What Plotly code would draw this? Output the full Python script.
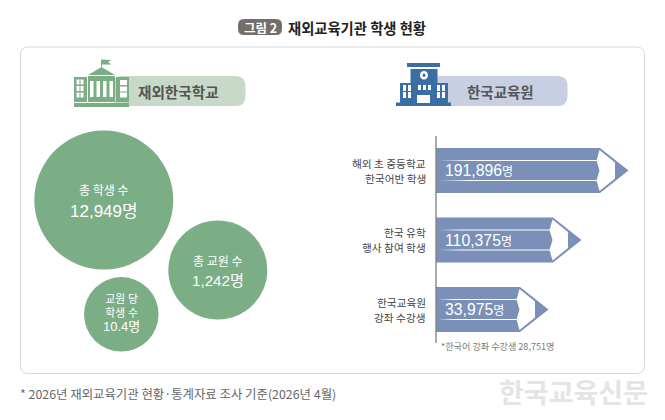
import plotly.graph_objects as go

# ---------------------------------------------------------------- data
title = "재외교육기관 학생 현황"
badge = "그림 2"
left_head = "재외한국학교"
right_head = "한국교육원"

bubble_lines = ["총 학생 수", "총 교원 수", "교원 당<br>학생 수"]
bubble_values = ["12,949", "1,242", "10.4"]

pencil_lines = [["해외 초 중등학교", "한국어반 학생"], ["한국 유학", "행사 참여 학생"], ["한국교육원", "강좌 수강생"]]
pencil_values = ["191,896", "110,375", "33,975"]
# drawn lengths (the original is not to scale)
pencil_lengths = [164, 117, 84]

note = "*한국어 강좌 수강생 28,751명"
footnote = "* 2026년 재외교육기관 현황·통계자료 조사 기준(2026년 4월)"
watermark = "한국교육신문"

# ---------------------------------------------------------------- layout constants
FONT = "Noto Sans CJK KR"
NUM_FONT = "Liberation Sans, Noto Sans CJK KR"
GREEN = "#7BAE85"
BLUE = "#7A90B8"
ICON_BLUE = "#3A6EA5"

bubble_x = [103.8, 217.8, 121.3]
bubble_y = [200, 270, 314.3]
bubble_d = [139, 99, 74.5]

axis_x = 436
pencil_y = [170.5, 240, 309.5]
pencil_h = 45

fig = go.Figure()
shapes = []
notes = []


def rect(x0, y0, x1, y1, color):
    shapes.append(dict(type="rect", x0=x0, y0=y0, x1=x1, y1=y1, fillcolor=color, line_width=0, layer="above"))


def poly(points, color, layer="above"):
    path = "M" + " L".join(f"{px},{py}" for px, py in points) + " Z"
    shapes.append(dict(type="path", path=path, fillcolor=color, line_width=0, layer=layer))


def rounded(x0, y0, x1, y1, r):
    return (f"M{x0+r},{y0} L{x1-r},{y0} Q{x1},{y0} {x1},{y0+r} L{x1},{y1-r} Q{x1},{y1} {x1-r},{y1} "
            f"L{x0+r},{y1} Q{x0},{y1} {x0},{y1-r} L{x0},{y0+r} Q{x0},{y0} {x0+r},{y0} Z")


def text(x, y, s, size, color, anchor="center", family=FONT):
    # annotations keep a small pad on the anchored side
    if anchor == "left":
        x -= 2
    elif anchor == "right":
        x += 2
    notes.append(dict(x=x, y=y, xref="x", yref="y", text=s, showarrow=False, xanchor=anchor, yanchor="middle",
                      font=dict(family=family, size=size, color=color), align=anchor))


# frame and title
shapes.append(dict(type="path", path=rounded(20.5, 47, 644.5, 373.5, 8), line=dict(color="#D6D6D6", width=1), layer="below"))
shapes.append(dict(type="path", path=rounded(238, 19, 282, 35, 6), fillcolor="#756E68", line_width=0, layer="below"))
text(260, 27, f"<b>{badge}</b>", 12.5, "white")
text(288, 27, f"<b>{title}</b>", 14.3, "#222222", "left")

# heading pills
shapes.append(dict(type="path", path=rounded(112, 76, 245.5, 106, 10), fillcolor="#C8D9C9", line_width=0, layer="below"))
shapes.append(dict(type="path", path=rounded(430, 76, 567.5, 106, 10), fillcolor="#C9CFE2", line_width=0, layer="below"))
text(178.5, 91, f"<b>{left_head}</b>", 14.6, "#555555")
text(500, 91, f"<b>{right_head}</b>", 14.5, "#555555")

# green building icon
rect(74, 103, 129, 107, GREEN)
rect(74, 77, 87, 102, GREEN)
rect(88, 76, 115, 102, GREEN)
rect(116, 77, 129, 102, GREEN)
poly([(88, 75), (101.5, 67), (115, 75)], GREEN)
rect(101, 59.5, 102, 67, GREEN)
poly([(102, 59.5), (111.5, 60), (108, 62), (111.5, 64.5), (102, 64.5)], GREEN)
for wx in (76.5, 80.5):
    for wy in (79.5, 86, 92.5):
        rect(wx, wy, wx + 3, wy + 5, "white")
for wy in (80, 86.5, 92.5):
    rect(120, wy, 127, wy + 5, "white")
for wx in (90, 96.5, 103, 109.5):
    rect(wx, 81, wx + 3.5, 97, "white")

# blue school icon
rect(407, 63, 440, 67, ICON_BLUE)
rect(410.5, 69, 437.5, 104, ICON_BLUE)
rect(400, 83, 448, 104, ICON_BLUE)
rect(396, 102.5, 451, 106, ICON_BLUE)
shapes.append(dict(type="circle", x0=420, y0=71, x1=428, y1=79.5, fillcolor="white", line_width=0, layer="above"))
shapes.append(dict(type="circle", x0=422.5, y0=73.5, x1=425.5, y1=77, fillcolor=ICON_BLUE, line_width=0, layer="above"))
rect(417, 95, 430, 103, "white")
for wx in (403, 408, 437, 442):
    for wy in (85, 92):
        rect(wx, wy, wx + 3, wy + 6, "white")
for wx in (418, 423, 428):
    rect(wx, 85, wx + 3, 90, "white")

# bubbles
fig.add_trace(go.Scatter(x=bubble_x, y=bubble_y, mode="markers",
                         marker=dict(size=bubble_d, color=GREEN, opacity=1, line_width=0), hoverinfo="skip"))
text(103.8, 189, bubble_lines[0], 12, "white")
text(103.8, 211, f"{bubble_values[0]}명", 17, "white", family=NUM_FONT)
text(217.8, 260, bubble_lines[1], 12, "white")
text(217.8, 280, f"{bubble_values[1]}명", 15.2, "white", family=NUM_FONT)
text(121.3, 313.5, f'{bubble_lines[2]}<br><span style="font-size:13px">{bubble_values[2]}명</span>', 10.8, "white", family=NUM_FONT)

# pencil bodies
fig.add_trace(go.Bar(x=pencil_lengths, y=pencil_y, base=axis_x, orientation="h", width=pencil_h,
                     marker=dict(color=BLUE, line_width=0), hoverinfo="skip"))

for length, cy, lines, val in zip(pencil_lengths, pencil_y, pencil_lines, pencil_values):
    end = axis_x + length
    top = cy - pencil_h / 2
    bot = cy + pencil_h / 2
    # tip and its white inset
    poly([(end, top), (end + 28.5, cy), (end, bot)], BLUE)
    poly([(end - 0.5, cy - 20.5), (end + 15, cy - 8), (end + 15, cy + 8), (end - 0.5, cy + 20.5),
          (end - 3.5, cy + 10), (end - 0.5, cy), (end - 3.5, cy - 10)], "white")
    # white stripes, fading out to the left
    for sy in (cy - 10, cy + 10):
        fig.add_trace(go.Scatter(x=[axis_x + 2, end - 3, end - 3, axis_x + 2, axis_x + 2],
                                 y=[sy - 0.6, sy - 0.6, sy + 0.6, sy + 0.6, sy - 0.6],
                                 mode="lines", line_width=0, fill="toself", hoverinfo="skip",
                                 fillgradient=dict(type="horizontal",
                                                   colorscale=[[0, "rgba(255,255,255,0)"], [0.2, "rgba(255,255,255,1)"],
                                                               [1, "rgba(255,255,255,1)"]])))
    text(445, cy, f'{val}<span style="font-size:12px">명</span>', 15.8, "white", "left", NUM_FONT)
    text(426, cy - 7.5, lines[0], 10.7, "#444444", "right")
    text(426, cy + 7.5, lines[1], 10.7, "#444444", "right")

# vertical axis of the pencils
shapes.append(dict(type="line", x0=axis_x, x1=axis_x, y0=136, y1=343, line=dict(color="#7F7F7F", width=1.3), layer="above"))

text(441, 346, note, 9.1, "#777777", "left")
text(20, 394, footnote, 12.4, "#666666", "left")
text(573, 391, f"<b>{watermark}</b>", 27, "#E4E4E4")

fig.update_layout(
    width=665, height=420, margin=dict(l=0, r=0, t=0, b=0), showlegend=False,
    paper_bgcolor="white", plot_bgcolor="white", shapes=shapes, annotations=notes,
    xaxis=dict(range=[0, 665], visible=False, fixedrange=True),
    yaxis=dict(range=[420, 0], visible=False, fixedrange=True),
)
fig.write_html("out.html", config=dict(displayModeBar=False),
               post_script="document.body.style.margin='0';document.body.style.overflow='hidden';")
